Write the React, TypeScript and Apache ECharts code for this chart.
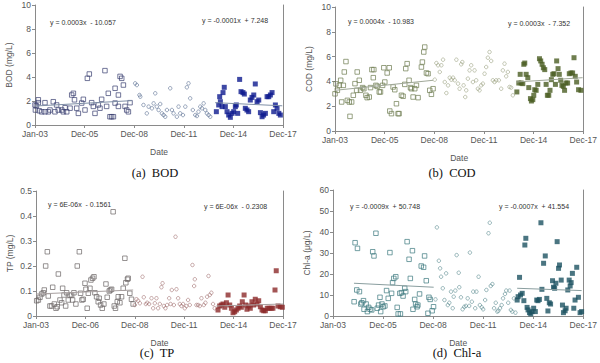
import React, { useEffect, useRef } from "react";
import * as echarts from "echarts";

// x values are months counted from Jan-03 (0) to Dec-17 (179)
const xLabelsStd = ["Jan-03", "Dec-05", "Dec-08", "Dec-11", "Dec-14", "Dec-17"];
const xLabelsTP = ["Jan-03", "Dec-06", "Dec-08", "Dec-11", "Dec-14", "Dec-17"];

const bodSquares: [number, number][] = [
  [0, 1.67], [0.3, 1.25], [1, 1.6], [2.4, 2.1], [2.4, 1.86], [3, 1.19], [4.8, 1.1], [7.2, 1.86], [7.2, 1.1], [9.6, 1.1],
  [10.8, 1.25], [13.2, 1.94], [14.4, 1.1], [15.6, 1.67], [16.8, 1.25], [19.3, 1.25], [20.5, 1.1], [21.7, 1.44], [22.9, 1.1],
  [25.3, 1.4], [26.5, 2.5], [27.7, 2.64], [28.5, 2.1], [30.1, 1.4], [31.3, 0.97], [33.7, 1.83], [34.9, 2.14], [36.1, 1.25],
  [37.8, 3.89], [39.2, 4.25], [40.9, 1.86], [42.1, 1.55], [43.3, 0.97], [45.7, 1.67], [46.9, 1.4], [48.1, 2.14], [50.5, 4.53],
  [51.7, 1.55], [52.9, 2.64], [54.1, 0.69], [55.3, 0.69], [56.6, 0.69], [57.8, 3.06], [57.8, 1.83], [60.2, 2.5], [60.2, 1.55],
  [61.4, 4.05], [62.6, 3.89], [63.8, 3.33], [65.0, 1.55], [66.2, 1.25], [67.4, 1.1], [68.6, 1.86],
];
const bodCircles: [number, number][] = [
  [72.3, 3.47], [73.5, 3.33], [75.4, 2.5], [76, 2.36], [78.3, 1.67], [80.7, 0.97], [82, 1.53], [84.4, 1.39], [85.6, 1.8],
  [86.8, 2.64], [87.9, 1.53], [89.2, 1.25], [90.4, 1.75], [91.6, 0.97], [92.8, 0.83], [94, 0.69], [95.2, 1.25], [97.6, 3.06],
  [98.8, 1.25], [100, 0.97], [102.4, 0.69], [103.6, 1.53], [104.8, 0.97], [106.8, 0.83], [108.5, 1.53], [109.6, 3.14],
  [110.8, 3.47], [112, 2.22], [113.9, 1.25], [115.7, 0.83], [116.9, 0.75], [118, 1.11], [119.3, 1.53], [120.5, 1.39],
  [121.7, 1.8], [122.9, 1.25], [124.1, 0.97], [125.3, 0.83], [126.5, 0.69],
];
const bodFilled: [number, number][] = [
  [130.9, 1.11], [132.6, 1.67], [133.3, 2.36], [133.8, 1.94], [135, 1.53], [135.7, 2.7], [136.6, 3.14], [137.4, 1.53],
  [138.6, 1.11], [139.8, 0.83], [141, 0.64], [142.2, 0.97], [143.4, 1.11], [144.6, 1.53], [145.3, 1.67], [146.3, 0.97],
  [147.7, 3.8], [148.7, 2.78], [150.1, 2.7], [151.1, 2.58], [151.8, 1.39], [153, 1.25], [154.2, 1.11], [155.4, 2.08],
  [156.6, 2.3], [157.9, 2.5], [159, 3.42], [160.3, 1.94], [161.5, 2.08], [162.7, 1.03], [163.9, 0.69], [165, 0.83],
  [166.3, 0.97], [167.5, 2.36], [168.7, 2.36], [169.9, 2.5], [171.1, 2.7], [172.3, 1.11], [173.5, 1.67], [174.7, 1.39],
  [176, 0.97], [177.1, 0.83],
];
const bodTrendEarly: [number, number][] = [[0, 1.58], [70, 2.03]];
const bodTrendLate: [number, number][] = [[130, 1.86], [178.5, 1.6]];

const codSquares: [number, number][] = [
  [0, 3.0], [0.7, 3.8], [1.7, 3.28], [3.1, 3.68], [4.1, 4.09], [4.8, 2.34], [6, 3.68], [6.7, 4.76], [7.9, 5.6], [8.9, 2.47],
  [10.3, 2.34], [10.8, 1.18], [12, 2.34], [13.2, 2.88], [14.4, 3.82], [15.6, 3.28], [16, 4.76], [17.5, 4.09], [18.4, 3.28],
  [19.9, 3.5], [20.8, 3.41], [22.3, 2.88], [23.2, 2.69], [24.7, 2.74], [25.6, 3.5], [26.6, 4.95], [27.6, 4.3], [28, 4.95],
  [29.5, 3.68], [30.4, 3.6], [31.9, 3.15], [32.8, 3.15], [34.3, 3.68], [35.2, 5.1], [35.9, 3.95], [37.6, 4.68], [39.1, 5.1],
  [39.5, 1.61], [40.7, 1.4], [41.9, 3.55], [43.1, 3.33], [44.3, 2.2], [45.5, 1.4], [46.2, 1.4], [47.9, 2.88], [49.1, 2.8],
  [50.3, 3.76], [51, 5.03], [52, 5.43], [53.4, 4.09], [54.4, 3.5], [55.1, 3.41], [56.3, 2.74], [57.5, 3.41], [58.7, 3.68],
  [59.9, 2.69], [62.3, 5.16], [63, 5.56], [64, 6.37], [64.7, 6.77], [65.9, 4.68], [67.1, 4.62], [68.3, 3.28], [69.5, 2.96],
  [70.7, 3.41],
];
const codCircles: [number, number][] = [
  [71.9, 4.14], [73.1, 5.48], [74.3, 5.3], [75.5, 4.76], [76.7, 5.3], [77.9, 5.75], [79.1, 3.95], [80.3, 3.06], [81.5, 3.68],
  [82.7, 4.3], [83.9, 4.14], [85.1, 4.3], [86.3, 4.09], [87.5, 5.75], [88.7, 3.82], [89.8, 3.41], [91, 5.38], [91.8, 5.56],
  [92.7, 3.68], [93.9, 2.74], [94.6, 3.28], [95.8, 4.22], [97, 4.89], [98.2, 5.3], [99.4, 3.95], [100.6, 4.89], [101.8, 4.09],
  [103, 3.41], [104.2, 3.28], [105.4, 3.68], [106.6, 3.82], [107.8, 4.62], [109, 5.16], [110.2, 5.91], [111.4, 6.37],
  [112.6, 5.65], [113.8, 4.09], [115, 3.95], [116.2, 4.09], [118.1, 4.09], [119.8, 3.41], [121, 4.89], [122.2, 5.43],
  [123.4, 4.41], [124.6, 4.76], [125.8, 3.55], [127, 3.5], [128.2, 2.88],
];
const codFilled: [number, number][] = [
  [131.1, 3.15], [132.5, 3.87], [133.5, 4.57], [134.2, 3.87], [135.4, 3.82], [136.1, 5.38], [136.8, 5.48], [137.8, 4.57],
  [139, 4.3], [139.7, 3.5], [140.9, 2.61], [141.6, 2.42], [142.6, 2.53], [143.3, 2.88], [144, 3.33], [145, 3.28], [146.2, 3.76],
  [147.4, 5.83], [148.3, 5.65], [149.3, 5.38], [150.2, 5.1], [151.2, 4.95], [152.2, 3.76], [153.1, 2.88], [154.1, 2.88],
  [155, 3.28], [156, 4.14], [157, 4.57], [157.9, 4.62], [158.9, 3.76], [159.8, 5.65], [160.8, 5.03], [161.7, 4.57],
  [162.7, 4.09], [163.6, 3.68], [164.6, 3.6], [165.5, 3.28], [166.5, 3.87], [167.7, 3.87], [168.9, 4.62], [170.1, 4.68],
  [171.3, 4.68], [172.3, 5.91], [173.2, 4.41], [174.2, 3.95], [175.6, 3.33], [177.3, 3.28],
];
const codTrendEarly: [number, number][] = [[0, 3.28], [70.7, 4.09]];
const codTrendLate: [number, number][] = [[130.6, 3.95], [178.5, 4.3]];

const tpSquares: [number, number][] = [
  [0.5, 0.061], [1.7, 0.064], [2.9, 0.075], [4.1, 0.088], [5.3, 0.093], [6, 0.104], [7, 0.2], [8.2, 0.257], [8.9, 0.08],
  [10.1, 0.04], [11.3, 0.04], [12.1, 0.115], [13.3, 0.048], [14.5, 0.031], [15.4, 0.037], [16.2, 0.168], [17.4, 0.064],
  [18.6, 0.053], [19.3, 0.111], [20.3, 0.084], [21.5, 0.04], [22.2, 0.093], [23.4, 0.064], [24.6, 0.084], [25.8, 0.084],
  [26.5, 0.064], [27.5, 0.093], [28.9, 0.048], [29.9, 0.2], [31.4, 0.257], [32.3, 0.091], [33.3, 0.064], [34.2, 0.067],
  [35.5, 0.131], [36.2, 0.107], [37.1, 0.031], [37.9, 0.091], [39.1, 0.111], [39.8, 0.144], [41, 0.151], [42, 0.157],
  [42.7, 0.093], [43.9, 0.077], [45.1, 0.057], [45.8, 0.071], [46.8, 0.044], [48, 0.031], [49.2, 0.048], [50.7, 0.128],
  [51.6, 0.075], [53.1, 0.1], [54, 0.104], [54.8, 0.107], [55.9, 0.417], [56.7, 0.04], [57.6, 0.031], [58.9, 0.057],
  [59.6, 0.077], [60.8, 0.053], [62, 0.077], [63.2, 0.111], [64.4, 0.231], [65.1, 0.133], [66.3, 0.147], [66.8, 0.151],
  [68, 0.091], [69.2, 0.067], [70.4, 0.048],
];
const tpCircles: [number, number][] = [
  [71.6, 0.044], [72.8, 0.067], [74, 0.061], [75.3, 0.051], [77.2, 0.157], [78.1, 0.075], [79.6, 0.048], [80.6, 0.053],
  [82, 0.048], [83.7, 0.071], [84.9, 0.031], [86.1, 0.051], [87.3, 0.071], [88.5, 0.031], [89.7, 0.048], [90.9, 0.115],
  [91.7, 0.131], [92.6, 0.04], [93.8, 0.031], [95, 0.044], [96.5, 0.071], [97.5, 0.048], [98.4, 0.104], [99.9, 0.044],
  [101.1, 0.317], [101.8, 0.107], [103, 0.071], [104.2, 0.048], [105.4, 0.04], [106.6, 0.048], [107.8, 0.031], [109, 0.04],
  [110.2, 0.064], [111.4, 0.044], [113.4, 0.204], [114.6, 0.12], [115.1, 0.147], [116.3, 0.044], [117.5, 0.044],
  [118.7, 0.04], [119.9, 0.071], [121.6, 0.044], [122.8, 0.053], [124, 0.077], [125, 0.16], [125.9, 0.084], [127.1, 0.093],
  [128.3, 0.048], [129.5, 0.031],
];
const tpFilled: [number, number][] = [
  [131.9, 0.024], [133.1, 0.04], [134.3, 0.044], [135.5, 0.048], [136.8, 0.035], [138, 0.053], [139.2, 0.084], [140.4, 0.044],
  [141.6, 0.031], [142.8, 0.013], [144, 0.017], [145.2, 0.024], [146.4, 0.031], [147.6, 0.04], [148.8, 0.035], [149.5, 0.057],
  [150.8, 0.084], [152, 0.044], [152.9, 0.027], [154.1, 0.04], [155.3, 0.031], [156.5, 0.057], [157.7, 0.044], [158.9, 0.067],
  [160.2, 0.048], [161.4, 0.061], [162.6, 0.037], [163.8, 0.024], [165, 0.021], [166.2, 0.021], [167.6, 0.031],
  [168.8, 0.031], [170.5, 0.031], [171.7, 0.031], [173.2, 0.104], [174.1, 0.181], [175.4, 0.04], [177, 0.037], [178.5, 0.035],
];
const tpTrendEarly: [number, number][] = [[0, 0.088], [70.4, 0.104]];
const tpTrendLate: [number, number][] = [[130.7, 0.04], [179, 0.048]];

const chlSquares: [number, number][] = [
  [15.1, 6.8], [15.8, 34.9], [17.5, 32.2], [17, 12.4], [18.9, 11.6], [19.9, 5.7], [20.6, 6.3], [21.8, 7.3], [22.2, 3.2],
  [23.7, 5.7], [24.6, 2.1], [25.5, 4.1], [26.5, 3.2], [27.7, 2.9], [28.4, 30.6], [29.3, 28.6], [30.7, 39.4], [31.7, 3.7],
  [32.6, 5.2], [33.6, 8.9], [34.1, 2.1], [35, 5.7], [35.9, 4.4], [37.1, 4.8], [38.3, 12.1], [39.5, 8.4], [40.7, 30.2],
  [41.9, 10.8], [42.6, 15.9], [43.5, 17.9], [44.9, 18.7], [45.9, 4.1], [46.6, 1], [47.8, 10.8], [48.2, 1], [49, 11.1],
  [50.1, 9.5], [51.3, 13.2], [52, 11.6], [53, 35.4], [54.4, 27], [55.3, 17.9], [56.8, 31.1], [57.2, 3.2], [58.4, 7.9],
  [59.1, 5.7], [60.1, 4.4], [60.7, 5.2], [61.9, 10.5], [63.1, 23.8], [64.8, 23.2], [65.5, 28.6], [66.7, 16.8], [67.9, 1.3],
  [68.6, 8.9], [69.5, 7.9], [70.9, 2.5], [71.9, 4.4],
];
const chlCircles: [number, number][] = [
  [73.3, 7.9], [74.3, 42.2], [75.7, 26.3], [76.6, 22.7], [77.3, 18.7], [78.5, 13.2], [79.7, 7.6], [80.9, 20.3], [82.1, 5.2],
  [83.2, 6.3], [84.4, 11.6], [85.6, 3.7], [86.3, 9.2], [87.5, 12.1], [88.4, 29], [89.9, 20.6], [90.3, 13.7], [91.5, 8.9],
  [92.7, 3.2], [93.9, 4.4], [95.1, 4.8], [96.3, 8.4], [97.4, 4.8], [97.9, 30.2], [99.3, 6.8], [100.3, 11.6], [101.7, 3.7],
  [102.6, 11.6], [104.1, 18.7], [105, 5.2], [106.4, 4.1], [107.4, 3.2], [108.8, 7.6], [109.7, 12.4], [111.2, 39.4],
  [112.1, 44.4], [112.8, 14.3], [114, 15.2], [115.2, 3.7], [116.4, 6.3], [117.5, 2.1], [118.2, 2.5], [119.4, 3.7],
  [120.6, 5.2], [121.6, 8.4], [123, 10.5], [123.9, 12.1], [125.3, 6.3], [126.3, 12.1], [127.2, 2.9], [128.2, 2.1],
  [129.4, 8.4], [130.5, 1.6],
];
const chlFilled: [number, number][] = [
  [131.7, 7.6], [132.4, 9.2], [133.4, 18.4], [134.1, 10], [135.3, 10.8], [136.5, 7.3], [137.2, 33.8], [137.9, 37],
  [138.8, 4.1], [139.5, 2.9], [140.5, 1.6], [141.4, 1], [142.4, 2.1], [143.5, 3.7], [144.7, 2.1], [145.7, 7.6], [146.6, 7.3],
  [147.6, 7.9], [148.7, 44.4], [149.4, 12.7], [150.6, 25.1], [151.8, 28.6], [152.9, 8.4], [153.7, 2.4], [154.7, 6.3],
  [155.6, 5.7], [157, 16.8], [157.7, 13.7], [158.5, 13.2], [159.4, 15.6], [160.3, 35.4], [161.3, 22.7], [162, 24.3],
  [163.2, 17.1], [164.1, 5.2], [164.8, 1.6], [166, 2.5], [166.7, 3.7], [167.9, 12.4], [168.9, 17.1], [169.6, 14.3],
  [170.3, 15.9], [171.2, 20.3], [172.2, 3.7], [173.1, 7.6], [174.3, 23.2], [175.5, 8.9], [176.7, 1.6], [177.8, 2.1],
];
const chlTrendEarly: [number, number][] = [[15, 15.6], [72, 13.7]];
const chlTrendLate: [number, number][] = [[131.7, 13.2], [177.8, 12.1]];

const AXIS_FONT = "'Liberation Sans', Arial, sans-serif";

type Panel = {
  grid: { left: number; top: number; width: number; height: number };
  yName: string;
  yMax: number;
  yInterval: number;
  xLabels: string[];
  squares: [number, number][];
  circles: [number, number][];
  filled: [number, number][];
  trendEarly: [number, number][];
  trendLate: [number, number][];
  squareColor: string;
  circleColor: string;
  filledColor: string;
  trendColor: string;
  eqLeft: string;
  eqRight: string;
  eqLeftPos: [number, number];
  eqRightPos: [number, number];
  caption: string;
  captionPos: [number, number];
};

const panels: Panel[] = [
  {
    grid: { left: 35, top: 5, width: 248, height: 120 },
    yName: "BOD (mg/L)", yMax: 10, yInterval: 2, xLabels: xLabelsStd,
    squares: bodSquares, circles: bodCircles, filled: bodFilled,
    trendEarly: bodTrendEarly, trendLate: bodTrendLate,
    squareColor: "#3c4272", circleColor: "#5d7294", filledColor: "#0e1a8e", trendColor: "#7f8fa6",
    eqLeft: "y = 0.0003x  - 10.057", eqRight: "y = -0.0001x  + 7.248",
    eqLeftPos: [50, 22], eqRightPos: [202, 20],
    caption: "(a)  BOD", captionPos: [155, 173],
  },
  {
    grid: { left: 335, top: 7, width: 249, height: 124 },
    yName: "COD (mg/L)", yMax: 10, yInterval: 2, xLabels: xLabelsStd,
    squares: codSquares, circles: codCircles, filled: codFilled,
    trendEarly: codTrendEarly, trendLate: codTrendLate,
    squareColor: "#6f7d52", circleColor: "#9ea384", filledColor: "#4b5e23", trendColor: "#a0a898",
    eqLeft: "y = 0.0004x  - 10.983", eqRight: "y = 0.0003x  - 7.352",
    eqLeftPos: [348, 21], eqRightPos: [508, 23],
    caption: "(b)  COD", captionPos: [452, 173],
  },
  {
    grid: { left: 36, top: 191, width: 247, height: 125 },
    yName: "TP (mg/L)", yMax: 0.5, yInterval: 0.1, xLabels: xLabelsTP,
    squares: tpSquares, circles: tpCircles, filled: tpFilled,
    trendEarly: tpTrendEarly, trendLate: tpTrendLate,
    squareColor: "#6e6868", circleColor: "#a57676", filledColor: "#8c2a2a", trendColor: "#a8a0a0",
    eqLeft: "y = 6E-06x  - 0.1561", eqRight: "y = 6E-06x  - 0.2308",
    eqLeftPos: [48, 204], eqRightPos: [204, 206],
    caption: "(c)  TP", captionPos: [157, 353],
  },
  {
    grid: { left: 333, top: 190, width: 252, height: 126 },
    yName: "Chl-a (μg/L)", yMax: 60, yInterval: 10, xLabels: xLabelsStd,
    squares: chlSquares, circles: chlCircles, filled: chlFilled,
    trendEarly: chlTrendEarly, trendLate: chlTrendLate,
    squareColor: "#3f7a80", circleColor: "#5f8d92", filledColor: "#1d5362", trendColor: "#8a9e9f",
    eqLeft: "y = -0.0009x  + 50.748", eqRight: "y = -0.0007x  + 41.554",
    eqLeftPos: [350, 206], eqRightPos: [499, 206],
    caption: "(d)  Chl-a", captionPos: [457, 353],
  },
];

const X_MAX = 179;
const X_STEP = 35.8;

export default function App() {
  const ref = useRef<HTMLDivElement>(null);

  useEffect(() => {
    if (!ref.current) return;
    const chart = echarts.init(ref.current, undefined, { renderer: "svg" });

    const grids: any[] = [];
    const xAxes: any[] = [];
    const yAxes: any[] = [];
    const series: any[] = [];
    const graphics: any[] = [];

    panels.forEach((p, i) => {
      grids.push({ ...p.grid, containLabel: false });
      xAxes.push({
        type: "value",
        gridIndex: i,
        min: 0,
        max: X_MAX,
        interval: X_STEP,
        name: "Date",
        nameLocation: "middle",
        nameGap: 22,
        nameTextStyle: { fontFamily: AXIS_FONT, fontSize: 8.5, color: "#555" },
        axisLine: { show: true, onZero: false, lineStyle: { color: "#8a8a8a", width: 1 } },
        axisTick: { show: true, length: 3, inside: false, lineStyle: { color: "#8a8a8a" } },
        splitLine: { show: false },
        axisLabel: {
          fontFamily: AXIS_FONT,
          fontSize: 8.5,
          color: "#555",
          margin: 4,
          showMinLabel: true,
          showMaxLabel: true,
          formatter: (v: number) => p.xLabels[Math.round(v / X_STEP)] ?? "",
        },
      });
      yAxes.push({
        type: "value",
        gridIndex: i,
        min: 0,
        max: p.yMax,
        interval: p.yInterval,
        name: p.yName,
        nameLocation: "middle",
        nameRotate: 90,
        nameGap: 22,
        nameTextStyle: { fontFamily: AXIS_FONT, fontSize: 8.5, color: "#555" },
        axisLine: { show: true, lineStyle: { color: "#8a8a8a", width: 1 } },
        axisTick: { show: true, length: 3, lineStyle: { color: "#8a8a8a" } },
        splitLine: { show: false },
        axisLabel: { fontFamily: AXIS_FONT, fontSize: 8.5, color: "#555", margin: 4 },
      });
      yAxes.push({
        type: "value",
        gridIndex: i,
        position: "right",
        min: 0,
        max: p.yMax,
        interval: p.yInterval,
        axisLine: { show: true, lineStyle: { color: "#8a8a8a", width: 1 } },
        axisTick: { show: false },
        axisLabel: { show: false },
        splitLine: { show: false },
      });
      const yIdx = i * 2;
      series.push({
        type: "scatter",
        xAxisIndex: i,
        yAxisIndex: yIdx,
        data: p.squares,
        symbol: "rect",
        symbolSize: 4.5,
        itemStyle: { color: "rgba(255,255,255,0)", borderColor: p.squareColor, borderWidth: 0.9 },
        z: 2,
      });
      series.push({
        type: "scatter",
        xAxisIndex: i,
        yAxisIndex: yIdx,
        data: p.circles,
        symbol: "circle",
        symbolSize: 3.5,
        itemStyle: { color: "rgba(255,255,255,0)", borderColor: p.circleColor, borderWidth: 0.8 },
        z: 2,
      });
      series.push({
        type: "scatter",
        xAxisIndex: i,
        yAxisIndex: yIdx,
        data: p.filled,
        symbol: "rect",
        symbolSize: 5,
        itemStyle: { color: p.filledColor },
        z: 2,
      });
      [p.trendEarly, p.trendLate].forEach((t) => {
        series.push({
          type: "line",
          xAxisIndex: i,
          yAxisIndex: yIdx,
          data: t,
          symbol: "none",
          lineStyle: { color: p.trendColor, width: 1 },
          z: 3,
          silent: true,
        });
      });
      graphics.push({
        type: "text",
        x: p.eqLeftPos[0],
        y: p.eqLeftPos[1],
        style: { text: p.eqLeft, fontFamily: AXIS_FONT, fontSize: 7, fill: "#333", verticalAlign: "middle" },
      });
      graphics.push({
        type: "text",
        x: p.eqRightPos[0],
        y: p.eqRightPos[1],
        style: { text: p.eqRight, fontFamily: AXIS_FONT, fontSize: 7, fill: "#333", verticalAlign: "middle" },
      });
      graphics.push({
        type: "text",
        x: p.captionPos[0],
        y: p.captionPos[1],
        style: {
          text: p.caption,
          fontFamily: "'Liberation Serif', 'Times New Roman', serif",
          fontSize: 12.5,
          fill: "#111",
          align: "center",
          verticalAlign: "middle",
        },
      });
    });

    chart.setOption({
      animation: false,
      backgroundColor: "#fff",
      grid: grids,
      xAxis: xAxes,
      yAxis: yAxes,
      series,
      graphic: graphics,
    });

    return () => chart.dispose();
  }, []);

  return (
    <div
      ref={ref}
      style={{ position: "fixed", left: 0, top: 0, width: 600, height: 363, background: "#fff" }}
    />
  );
}
